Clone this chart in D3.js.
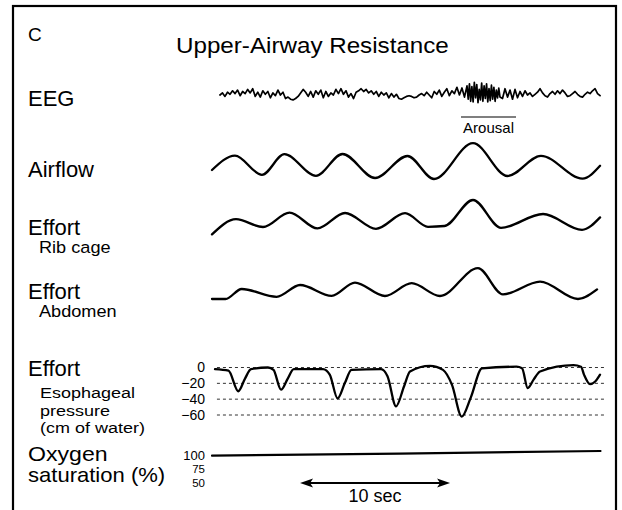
<!DOCTYPE html>
<html>
<head>
<meta charset="utf-8">
<script src="https://cdn.jsdelivr.net/npm/d3@7"></script>
<style>
  html, body { margin: 0; padding: 0; background: #fff; }
  svg { display: block; }
  text { font-family: "Liberation Sans", Arial, Helvetica, sans-serif; fill: #000; }
</style>
</head>
<body>
<svg id="chart"></svg>
<script>
// ---- data (time in seconds, traces in relative units) ----
const eegPreSpan = [0.53, 17.0];
const eegPre = [
  0, 0.3, -0.2, 0.4, 0.1, 0.6, 0.2, 0.7, -0.1, 0.5, 0.2, 0.8, 0.3, 0.9, -0.2, 0.4, -0.3, 0.6, 0.1, 0.5, -0.4, 0.3, -0.1, 0.7, 0.0, 0.4, -0.5, -0.3,
  -0.6, -0.7, -0.5, -0.2, 0.3, 0.8, 0.4, -0.2, 0.5,
  -0.3, 0.6, 0.1, 0.7, -0.4, 0.5, -0.2, 0.3, 0.0, 0.8, 0.2, 0.9, 0.1, 0.6, -0.3, 0.2, -0.5, 0.4, 0.6, 0.9, 0.5, 0.8, 0.3, 0.6, 0.1, 0.5, -0.2, 0.4, 0.0, 0.3, -0.4, 0.2, -0.3, 0.1, -0.5,
  -0.6, -0.4, -0.2, -0.1, -0.2, -0.4, -0.3, 0.0,
  0.2, -0.1, 0.4, 0.0, -0.4, 0.5, 0.1, 0.7, -0.2, 0.4, 0.9, -0.1, 0.6, 0.2, 1.1, 0.0, 1.0, -0.3, 1.3
];
const eegArousalSpan = [17.0, 19.2];
const eegArousal = [
  0.9, -0.6, 1.6, -0.9, 1.2, -1.0, 1.8, -0.4, 1.5, -1.1, 0.8, -0.7, 1.7, -0.9,
  1.3, -0.5, 1.6, -1.0, 0.9, -0.8, 1.4, -0.6, 1.1, -0.9, 0.7, -0.4, 1.0, -0.3
];
const eegPostSpan = [19.2, 25.87];
const eegPost = [
  1.0, -0.5, 0.9, -0.3, 0.7, -0.6, 0.8, -0.4, 0.5, -0.2, 0.6, 0.0, 0.3, -0.2, 0.1, 0.4, 0.9, 0.3, -0.1, -0.3, 0.2,
  0.5, 0.1, 0.6, 0.2, 0.7, 0.3, -0.2, -0.1, 0.2, 0.5, 0.1, -0.2, -0.3, 0.1, 0.4, 0.2, 0.6, 0.9, 0.2, -0.1
];
const arousal = [16.6, 20.27];

const airflow = [
  [0, -0.45], [1.53, 0.27], [3.33, -0.69], [4.83, 0.34], [6.93, -0.74], [8.7, 0.35],
  [10.87, -0.85], [13.03, 0.25], [14.8, -0.9], [17.4, 0.89], [19.7, -0.75],
  [21.93, 0.26], [24.7, -0.88], [25.87, -0.24]
];
const ribCage = [
  [0, -0.72], [1.6, 0.04], [3.4, -0.35], [5.17, 0.37], [7.03, -0.42], [8.87, 0.35],
  [10.93, -0.44], [12.87, 0.34], [14.4, -0.34], [15.5, -0.3], [17.4, 1.0], [19.27, -0.39],
  [22.07, 0.3], [24.67, -0.49], [25.87, 0.13]
];
const abdomen = [
  [0, -0.55], [0.9, -0.55], [1.98, -0.05], [4.31, -0.44], [5.87, 0.15], [7.98, -0.39],
  [9.53, 0.27], [11.53, -0.4], [13.31, 0.24], [15.2, -0.4], [17.73, 0.99], [19.4, -0.32],
  [21.87, 0.32], [24.4, -0.55], [25.67, -0.07]
];
const esoTicks = [0, -20, -40, -60];
const esophageal = [
  [0.2, -2], [1.1, -4], [1.75, -30], [2.2, -14], [2.6, -2], [3.73, 0], [4.1, -3],
  [4.6, -28], [5.05, -14], [5.45, -2], [7.4, -2], [7.85, -9], [8.37, -39], [8.85, -20],
  [9.3, -3], [11.27, -2], [11.7, -11], [12.27, -49], [12.8, -24], [13.2, -5],
  [14.53, 2], [15.4, -3], [16.0, -22], [16.65, -62], [17.25, -38], [18.0, -1],
  [20.3, 1], [20.67, -1], [21.05, -26], [21.45, -15], [21.87, -5], [24.1, 3],
  [24.6, 1], [24.8, -9], [25.2, -21], [25.53, -18], [25.87, -9]
];
const o2Ticks = [100, 75, 50];
const oxygen = [[0, 100], [12.5, 104], [25.9, 108.7]];
const scaleBar = { start: 5.87, len: 10, label: "10 sec" };

// ---- layout ----
const W = 622, H = 510;
const svg = d3.select("#chart").attr("width", W).attr("height", H);

svg.append("rect")
  .attr("x", 13).attr("y", 6).attr("width", 603).attr("height", H + 10)
  .attr("fill", "none").attr("stroke", "#000").attr("stroke-width", 2.2);

const x = d3.scaleLinear().domain([0, 26]).range([212, 602]);

const yEeg = d3.scaleLinear().domain([-1.5, 1.5]).range([105.5, 84.5]);
const yAir = d3.scaleLinear().domain([-1, 1]).range([181, 141]);
const yRib = d3.scaleLinear().domain([-1, 1]).range([240, 200]);
const yAbd = d3.scaleLinear().domain([-1, 1]).range([308, 268]);
const yEso = d3.scaleLinear().domain([0, -60]).range([367.5, 415]);
const yO2 = d3.scaleLinear().domain([50, 100]).range([482.7, 455.7]);

const trace = (data, y, curve) => d3.line()
  .x(d => x(d[0])).y(d => y(d[1])).curve(curve || d3.curveMonotoneX)(data);

const traceStyle = sel => sel.attr("fill", "none").attr("stroke", "#000")
  .attr("stroke-linejoin", "round").attr("stroke-linecap", "round");

// labels (slightly stretched horizontally like the original lettering)
const label = (txt, lx, ly, size, anchor, sx) => svg.append("text")
  .attr("transform", `translate(${lx},${ly}) scale(${sx || 1},1)`)
  .attr("font-size", size)
  .attr("text-anchor", anchor || "start").text(txt);

label("C", 28, 41, 19);
label("Upper-Airway Resistance", 176, 53, 22, "start", 1.1);
label("EEG", 28, 106, 22);
label("Airflow", 28, 177, 22);
label("Effort", 28, 235, 22);
label("Rib cage", 39, 253, 16.5, "start", 1.1);
label("Effort", 28, 299, 22);
label("Abdomen", 39, 317, 16.5, "start", 1.1);
label("Effort", 28, 376, 22);
label("Esophageal", 40, 398, 15, "start", 1.2);
label("pressure", 40, 415.5, 15, "start", 1.2);
label("(cm of water)", 40, 433, 15, "start", 1.2);
label("Oxygen", 28, 461, 21, "start", 1.1);
label("saturation (%)", 28, 482, 21, "start", 1.05);

// EEG
const eegSeg = (vals, span) => {
  const t = d3.scaleLinear().domain([0, vals.length - 1]).range(span);
  return vals.map((v, i) => [t(i), v]);
};
const eegAll = [...eegSeg(eegPre, eegPreSpan), ...eegSeg(eegArousal, eegArousalSpan).slice(1),
  ...eegSeg(eegPost, eegPostSpan).slice(1)];
svg.append("path")
  .attr("d", trace(eegAll, yEeg, d3.curveLinear))
  .call(traceStyle).attr("stroke-width", 1.7);

svg.append("line")
  .attr("x1", x(arousal[0])).attr("x2", x(arousal[1]))
  .attr("y1", 117).attr("y2", 117)
  .attr("stroke", "#000").attr("stroke-width", 1.2);
label("Arousal", (x(arousal[0]) + x(arousal[1])) / 2, 133, 15, "middle");

// breathing traces
svg.append("path").attr("d", trace(airflow, yAir)).call(traceStyle).attr("stroke-width", 2.3);
svg.append("path").attr("d", trace(ribCage, yRib)).call(traceStyle).attr("stroke-width", 2.3);
svg.append("path").attr("d", trace(abdomen, yAbd)).call(traceStyle).attr("stroke-width", 2.3);

// esophageal pressure
svg.append("g").selectAll("line").data(esoTicks).join("line")
  .attr("x1", x(0.33)).attr("x2", x(26.2))
  .attr("y1", d => yEso(d)).attr("y2", d => yEso(d))
  .attr("stroke", "#333").attr("stroke-width", 1).attr("stroke-dasharray", "3,3");

const esoAxis = svg.append("g").attr("transform", "translate(206,0)")
  .call(d3.axisLeft(yEso).tickValues(esoTicks).tickSize(0).tickPadding(1));
esoAxis.select(".domain").remove();
esoAxis.selectAll("text").attr("font-size", 14)
  .attr("font-family", "'Liberation Sans', Arial, sans-serif");

svg.append("path").attr("d", trace(esophageal, yEso)).call(traceStyle).attr("stroke-width", 2.3);

// oxygen saturation
const o2Axis = svg.append("g").attr("transform", "translate(206,0)")
  .call(d3.axisLeft(yO2).tickValues(o2Ticks).tickSize(0).tickPadding(1));
o2Axis.select(".domain").remove();
o2Axis.selectAll("text").attr("font-size", d => d === 100 ? 13 : 11.5)
  .attr("font-family", "'Liberation Sans', Arial, sans-serif");

svg.append("path").attr("d", trace(oxygen, yO2, d3.curveLinear)).call(traceStyle).attr("stroke-width", 2.2);

// 10 sec scale bar
const ax1 = x(scaleBar.start), ax2 = x(scaleBar.start + scaleBar.len), ay = 483;
svg.append("line").attr("x1", ax1 + 6).attr("x2", ax2 - 6).attr("y1", ay).attr("y2", ay)
  .attr("stroke", "#000").attr("stroke-width", 2);
svg.append("path").attr("d", `M${ax1},${ay} L${ax1 + 13},${ay - 4.5} L${ax1 + 10},${ay} L${ax1 + 13},${ay + 4.5} Z`);
svg.append("path").attr("d", `M${ax2},${ay} L${ax2 - 13},${ay - 4.5} L${ax2 - 10},${ay} L${ax2 - 13},${ay + 4.5} Z`);
label(scaleBar.label, (ax1 + ax2) / 2, 502, 18, "middle");
</script>
</body>
</html>
